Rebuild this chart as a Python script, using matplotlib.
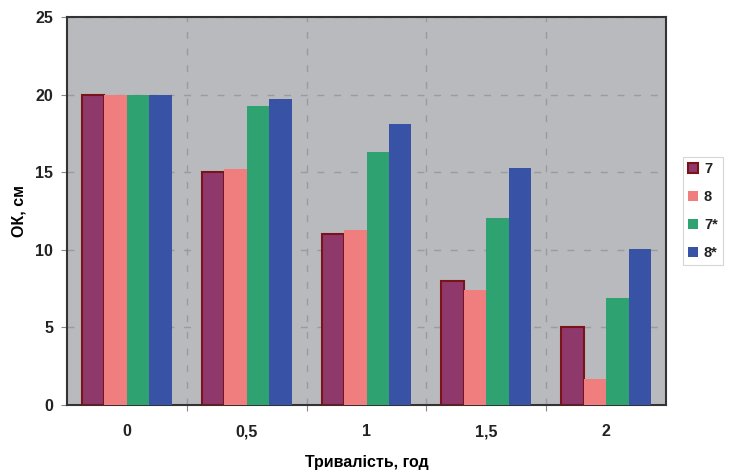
import matplotlib
matplotlib.use("Agg")
import matplotlib.pyplot as plt
import numpy as np

plt.rcParams['font.family'] = ['Liberation Sans', 'DejaVu Sans']

categories = ["0", "0,5", "1", "1,5", "2"]
series_names = ["7", "8", "7*", "8*"]
s7 = [20, 15, 11, 8, 5]
s8 = [20, 15.2, 11.3, 7.4, 1.7]
s7s = [20, 19.25, 16.3, 12.05, 6.9]
s8s = [20, 19.7, 18.1, 15.3, 10.05]
y_ticks = [0, 5, 10, 15, 20, 25]

fills = ["#8f386c", "#f17e7e", "#2fa272", "#3853a6"]
edges = ["#7a1418", "#f17e7e", "#2fa272", "#3853a6"]

fig = plt.figure(figsize=(7.31, 4.72), dpi=100)
ax = fig.add_axes([67 / 731, 1 - 405 / 472, 599 / 731, 388 / 472])
ax.set_facecolor("#b9babe")

x = np.arange(len(categories))
w = 0.1875
for i, (vals, fc, ec, name) in enumerate(zip([s7, s8, s7s, s8s], fills, edges, series_names)):
    lw = 1.5 if i == 0 else 0
    ax.bar(x + (i - 1.5) * w, vals, width=w, color=fc, edgecolor=ec, linewidth=lw,
           label=name, zorder=3)

ax.set_xlim(-0.5, len(categories) - 0.5)
ax.set_ylim(0, 25)
ax.set_yticks(y_ticks)
ax.set_yticklabels([str(t) for t in y_ticks], fontsize=11.5, fontweight="bold", color="#222222")

ax.set_xticks(np.arange(0.5, len(categories) - 0.5, 1.0))
ax.set_xticklabels([])
ax.set_xticks(x, minor=True)
ax.set_xticklabels(categories, minor=True, fontsize=11.5, fontweight="bold", color="#222222")
ax.tick_params(axis="x", which="minor", length=0, pad=14)
ax.tick_params(axis="x", which="major", length=4, color="#888888", direction="out")
ax.tick_params(axis="y", length=4, color="#888888", direction="out", pad=6)

ax.grid(True, which="major", axis="both", linestyle=(0, (5, 7)), color="#9a9b9f",
        linewidth=1.0, zorder=1)
for sp in ax.spines.values():
    sp.set_color("#333333")
    sp.set_linewidth(1.5)

ax.set_ylabel("ОК, см", fontsize=11.5, fontweight="bold", labelpad=6)
ax.set_xlabel("Тривалість, год", fontsize=11.5, fontweight="bold", labelpad=11)

leg = ax.legend(loc="center left", bbox_to_anchor=(1.028, 0.5), frameon=True,
                fancybox=False, fontsize=10.5, handlelength=0.7, handleheight=0.7,
                handletextpad=0.4, labelspacing=0.95, borderpad=0.35, borderaxespad=0)
leg.get_frame().set_edgecolor("#cccccc")
leg.get_frame().set_linewidth(0.8)
for t in leg.get_texts():
    t.set_fontweight("bold")
    t.set_color("#222222")

fig.savefig("out.png", dpi=100)
